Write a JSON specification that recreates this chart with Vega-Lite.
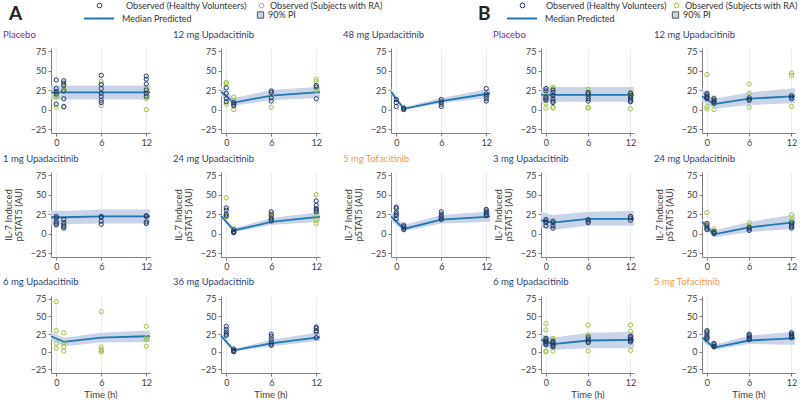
{
"$schema":"https://vega.github.io/schema/vega-lite/v6.json",
"padding":{"left":3,"right":0,"top":1,"bottom":0},
"datasets":{
"pred":[
{"p":"A1","t":-0.7,"m":22,"lo":13,"hi":31},{"p":"A1","t":1,"m":22,"lo":13,"hi":31},{"p":"A1","t":6,"m":22,"lo":13,"hi":31},{"p":"A1","t":12,"m":22,"lo":13,"hi":31},{"p":"A1","t":12.5,"m":22,"lo":13,"hi":31},
{"p":"A2","t":-0.7,"m":23,"lo":17,"hi":30},{"p":"A2","t":1,"m":9,"lo":5,"hi":15},{"p":"A2","t":6,"m":18,"lo":12,"hi":25},{"p":"A2","t":12,"m":22,"lo":15,"hi":29},{"p":"A2","t":12.5,"m":22.3,"lo":15.3,"hi":29.3},
{"p":"A3","t":-0.7,"m":23,"lo":19,"hi":27},{"p":"A3","t":1,"m":1,"lo":0,"hi":3},{"p":"A3","t":6,"m":11,"lo":8,"hi":15},{"p":"A3","t":12,"m":20,"lo":15,"hi":26},{"p":"A3","t":12.5,"m":20.7,"lo":15.5,"hi":26.7},
{"p":"A4","t":-0.7,"m":21,"lo":11,"hi":30},{"p":"A4","t":1,"m":21,"lo":12,"hi":29},{"p":"A4","t":6,"m":22,"lo":13,"hi":31},{"p":"A4","t":12,"m":22,"lo":13,"hi":31},{"p":"A4","t":12.5,"m":22,"lo":13,"hi":31},
{"p":"A5","t":-0.7,"m":23,"lo":21,"hi":25},{"p":"A5","t":1,"m":4,"lo":2,"hi":7},{"p":"A5","t":6,"m":15,"lo":11,"hi":20},{"p":"A5","t":12,"m":21,"lo":15,"hi":27},{"p":"A5","t":12.5,"m":21.5,"lo":15.5,"hi":27.5},
{"p":"A6","t":-0.7,"m":22,"lo":17,"hi":28},{"p":"A6","t":1,"m":6,"lo":3,"hi":11},{"p":"A6","t":6,"m":18,"lo":13,"hi":24},{"p":"A6","t":12,"m":21.5,"lo":15,"hi":28},{"p":"A6","t":12.5,"m":22,"lo":15.3,"hi":28.4},
{"p":"A7","t":-0.7,"m":22,"lo":17,"hi":28},{"p":"A7","t":1,"m":14,"lo":8,"hi":20},{"p":"A7","t":6,"m":20,"lo":13,"hi":27},{"p":"A7","t":12,"m":22,"lo":14,"hi":30},{"p":"A7","t":12.5,"m":22,"lo":14,"hi":30},
{"p":"A8","t":-0.7,"m":23,"lo":20,"hi":26},{"p":"A8","t":1,"m":2,"lo":0.5,"hi":4},{"p":"A8","t":6,"m":12,"lo":8,"hi":17},{"p":"A8","t":12,"m":20,"lo":15,"hi":27},{"p":"A8","t":12.5,"m":20.7,"lo":15.5,"hi":27.5},
{"p":"B1","t":-0.7,"m":19,"lo":10,"hi":29},{"p":"B1","t":1,"m":19,"lo":10,"hi":29},{"p":"B1","t":6,"m":19,"lo":10,"hi":29},{"p":"B1","t":12,"m":19,"lo":10,"hi":29},{"p":"B1","t":12.5,"m":19,"lo":10,"hi":29},
{"p":"B2","t":-0.7,"m":17,"lo":10,"hi":26},{"p":"B2","t":1,"m":7,"lo":1,"hi":14},{"p":"B2","t":6,"m":14,"lo":6,"hi":22},{"p":"B2","t":12,"m":17,"lo":8,"hi":27},{"p":"B2","t":12.5,"m":17.3,"lo":8.2,"hi":27.3},
{"p":"B3","t":-0.7,"m":17,"lo":8,"hi":28},{"p":"B3","t":1,"m":14,"lo":5,"hi":24},{"p":"B3","t":6,"m":19,"lo":10,"hi":28},{"p":"B3","t":12,"m":19,"lo":10,"hi":29},{"p":"B3","t":12.5,"m":19,"lo":10,"hi":29},
{"p":"B4","t":-0.7,"m":15,"lo":11,"hi":19},{"p":"B4","t":1,"m":-1,"lo":-5,"hi":4},{"p":"B4","t":6,"m":8,"lo":2,"hi":15},{"p":"B4","t":12,"m":14,"lo":6,"hi":24},{"p":"B4","t":12.5,"m":14.5,"lo":6.3,"hi":24.6},
{"p":"B5","t":-0.7,"m":17,"lo":9,"hi":25},{"p":"B5","t":1,"m":11,"lo":3,"hi":20},{"p":"B5","t":6,"m":16,"lo":5,"hi":27},{"p":"B5","t":12,"m":17,"lo":5,"hi":28},{"p":"B5","t":12.5,"m":17,"lo":5,"hi":28},
{"p":"B6","t":-0.7,"m":20,"lo":15,"hi":25},{"p":"B6","t":1,"m":6,"lo":3,"hi":10},{"p":"B6","t":6,"m":16,"lo":11,"hi":23},{"p":"B6","t":12,"m":19,"lo":10,"hi":28},{"p":"B6","t":12.5,"m":19.3,"lo":10.2,"hi":28.3}
],
"obs":[
{"p":"A1","t":0,"v":22,"s":"RA"},{"p":"A1","t":0,"v":18,"s":"RA"},{"p":"A1","t":0,"v":16,"s":"RA"},{"p":"A1","t":0,"v":3,"s":"RA"},
{"p":"A1","t":0,"v":38,"s":"HV"},{"p":"A1","t":0,"v":27,"s":"HV"},{"p":"A1","t":0,"v":23,"s":"HV"},{"p":"A1","t":0,"v":20,"s":"HV"},{"p":"A1","t":0,"v":7,"s":"HV"},
{"p":"A1","t":1,"v":27,"s":"RA"},{"p":"A1","t":1,"v":3,"s":"RA"},
{"p":"A1","t":1,"v":37,"s":"HV"},{"p":"A1","t":1,"v":34,"s":"HV"},{"p":"A1","t":1,"v":31,"s":"HV"},{"p":"A1","t":1,"v":24,"s":"HV"},{"p":"A1","t":1,"v":14,"s":"HV"},{"p":"A1","t":1,"v":4,"s":"HV"},
{"p":"A1","t":6,"v":36,"s":"RA"},{"p":"A1","t":6,"v":33,"s":"RA"},{"p":"A1","t":6,"v":5,"s":"RA"},
{"p":"A1","t":6,"v":44,"s":"HV"},{"p":"A1","t":6,"v":32,"s":"HV"},{"p":"A1","t":6,"v":27,"s":"HV"},{"p":"A1","t":6,"v":21,"s":"HV"},{"p":"A1","t":6,"v":17,"s":"HV"},{"p":"A1","t":6,"v":12,"s":"HV"},{"p":"A1","t":6,"v":9,"s":"HV"},
{"p":"A1","t":12,"v":27,"s":"RA"},{"p":"A1","t":12,"v":21,"s":"RA"},{"p":"A1","t":12,"v":14,"s":"RA"},{"p":"A1","t":12,"v":0,"s":"RA"},
{"p":"A1","t":12,"v":43,"s":"HV"},{"p":"A1","t":12,"v":39,"s":"HV"},{"p":"A1","t":12,"v":33,"s":"HV"},{"p":"A1","t":12,"v":25,"s":"HV"},{"p":"A1","t":12,"v":21,"s":"HV"},{"p":"A1","t":12,"v":17,"s":"HV"},
{"p":"A2","t":0,"v":35,"s":"RA"},{"p":"A2","t":0,"v":33,"s":"RA"},{"p":"A2","t":0,"v":7,"s":"RA"},
{"p":"A2","t":0,"v":28,"s":"HV"},{"p":"A2","t":0,"v":21,"s":"HV"},{"p":"A2","t":0,"v":14,"s":"HV"},{"p":"A2","t":0,"v":10,"s":"HV"},
{"p":"A2","t":1,"v":16,"s":"RA"},{"p":"A2","t":1,"v":12,"s":"RA"},{"p":"A2","t":1,"v":0,"s":"RA"},
{"p":"A2","t":1,"v":9,"s":"HV"},{"p":"A2","t":1,"v":7,"s":"HV"},{"p":"A2","t":1,"v":5,"s":"HV"},
{"p":"A2","t":6,"v":19,"s":"RA"},{"p":"A2","t":6,"v":3,"s":"RA"},
{"p":"A2","t":6,"v":24,"s":"HV"},{"p":"A2","t":6,"v":22,"s":"HV"},{"p":"A2","t":6,"v":15,"s":"HV"},{"p":"A2","t":6,"v":11,"s":"HV"},
{"p":"A2","t":12,"v":39,"s":"RA"},{"p":"A2","t":12,"v":36,"s":"RA"},{"p":"A2","t":12,"v":25,"s":"RA"},
{"p":"A2","t":12,"v":31,"s":"HV"},{"p":"A2","t":12,"v":29,"s":"HV"},{"p":"A2","t":12,"v":14,"s":"HV"},
{"p":"A3","t":0,"v":13,"s":"HV"},{"p":"A3","t":0,"v":9,"s":"HV"},{"p":"A3","t":0,"v":4,"s":"HV"},
{"p":"A3","t":1,"v":2,"s":"HV"},{"p":"A3","t":1,"v":1,"s":"HV"},{"p":"A3","t":1,"v":0,"s":"HV"},
{"p":"A3","t":6,"v":13,"s":"HV"},{"p":"A3","t":6,"v":10,"s":"HV"},{"p":"A3","t":6,"v":7,"s":"HV"},{"p":"A3","t":6,"v":4,"s":"HV"},
{"p":"A3","t":12,"v":27,"s":"HV"},{"p":"A3","t":12,"v":20,"s":"HV"},{"p":"A3","t":12,"v":17,"s":"HV"},{"p":"A3","t":12,"v":14,"s":"HV"},{"p":"A3","t":12,"v":11,"s":"HV"},
{"p":"A4","t":0,"v":22,"s":"HV"},{"p":"A4","t":0,"v":20,"s":"HV"},{"p":"A4","t":0,"v":15,"s":"HV"},{"p":"A4","t":0,"v":13,"s":"HV"},{"p":"A4","t":0,"v":11,"s":"HV"},
{"p":"A4","t":1,"v":18,"s":"HV"},{"p":"A4","t":1,"v":14,"s":"HV"},{"p":"A4","t":1,"v":11,"s":"HV"},{"p":"A4","t":1,"v":9,"s":"HV"},{"p":"A4","t":1,"v":7,"s":"HV"},
{"p":"A4","t":6,"v":22,"s":"HV"},{"p":"A4","t":6,"v":21,"s":"HV"},{"p":"A4","t":6,"v":16,"s":"HV"},{"p":"A4","t":6,"v":12,"s":"HV"},
{"p":"A4","t":12,"v":23,"s":"HV"},{"p":"A4","t":12,"v":22,"s":"HV"},{"p":"A4","t":12,"v":15,"s":"HV"},{"p":"A4","t":12,"v":13,"s":"HV"},
{"p":"A5","t":0,"v":46,"s":"RA"},{"p":"A5","t":0,"v":22,"s":"RA"},{"p":"A5","t":0,"v":21,"s":"RA"},
{"p":"A5","t":0,"v":33,"s":"HV"},{"p":"A5","t":0,"v":30,"s":"HV"},{"p":"A5","t":0,"v":25,"s":"HV"},{"p":"A5","t":0,"v":23,"s":"HV"},
{"p":"A5","t":1,"v":6,"s":"RA"},{"p":"A5","t":1,"v":2,"s":"RA"},
{"p":"A5","t":1,"v":5,"s":"HV"},{"p":"A5","t":1,"v":3,"s":"HV"},{"p":"A5","t":1,"v":2,"s":"HV"},{"p":"A5","t":1,"v":1,"s":"HV"},
{"p":"A5","t":6,"v":26,"s":"RA"},{"p":"A5","t":6,"v":22,"s":"RA"},
{"p":"A5","t":6,"v":28,"s":"HV"},{"p":"A5","t":6,"v":24,"s":"HV"},{"p":"A5","t":6,"v":20,"s":"HV"},{"p":"A5","t":6,"v":18,"s":"HV"},{"p":"A5","t":6,"v":16,"s":"HV"},
{"p":"A5","t":12,"v":50,"s":"RA"},{"p":"A5","t":12,"v":25,"s":"RA"},{"p":"A5","t":12,"v":17,"s":"RA"},{"p":"A5","t":12,"v":13,"s":"RA"},
{"p":"A5","t":12,"v":42,"s":"HV"},{"p":"A5","t":12,"v":36,"s":"HV"},{"p":"A5","t":12,"v":32,"s":"HV"},{"p":"A5","t":12,"v":30,"s":"HV"},{"p":"A5","t":12,"v":28,"s":"HV"},
{"p":"A6","t":0,"v":34,"s":"HV"},{"p":"A6","t":0,"v":32,"s":"HV"},{"p":"A6","t":0,"v":27,"s":"HV"},{"p":"A6","t":0,"v":25,"s":"HV"},{"p":"A6","t":0,"v":23,"s":"HV"},{"p":"A6","t":0,"v":19,"s":"HV"},
{"p":"A6","t":1,"v":11,"s":"HV"},{"p":"A6","t":1,"v":9,"s":"HV"},{"p":"A6","t":1,"v":7,"s":"HV"},{"p":"A6","t":1,"v":5,"s":"HV"},
{"p":"A6","t":6,"v":28,"s":"HV"},{"p":"A6","t":6,"v":25,"s":"HV"},{"p":"A6","t":6,"v":22,"s":"HV"},{"p":"A6","t":6,"v":20,"s":"HV"},{"p":"A6","t":6,"v":18,"s":"HV"},
{"p":"A6","t":12,"v":31,"s":"HV"},{"p":"A6","t":12,"v":29,"s":"HV"},{"p":"A6","t":12,"v":27,"s":"HV"},{"p":"A6","t":12,"v":25,"s":"HV"},{"p":"A6","t":12,"v":23,"s":"HV"},
{"p":"A7","t":0,"v":71,"s":"RA"},{"p":"A7","t":0,"v":30,"s":"RA"},{"p":"A7","t":0,"v":12,"s":"RA"},{"p":"A7","t":0,"v":5,"s":"RA"},
{"p":"A7","t":1,"v":27,"s":"RA"},{"p":"A7","t":1,"v":13,"s":"RA"},{"p":"A7","t":1,"v":7,"s":"RA"},{"p":"A7","t":1,"v":1,"s":"RA"},
{"p":"A7","t":6,"v":57,"s":"RA"},{"p":"A7","t":6,"v":7,"s":"RA"},{"p":"A7","t":6,"v":3,"s":"RA"},{"p":"A7","t":6,"v":1,"s":"RA"},{"p":"A7","t":6,"v":0,"s":"RA"},
{"p":"A7","t":12,"v":36,"s":"RA"},{"p":"A7","t":12,"v":20,"s":"RA"},{"p":"A7","t":12,"v":17,"s":"RA"},{"p":"A7","t":12,"v":8,"s":"RA"},
{"p":"A8","t":0,"v":36,"s":"HV"},{"p":"A8","t":0,"v":32,"s":"HV"},{"p":"A8","t":0,"v":28,"s":"HV"},{"p":"A8","t":0,"v":25,"s":"HV"},{"p":"A8","t":0,"v":23,"s":"HV"},
{"p":"A8","t":1,"v":4,"s":"HV"},{"p":"A8","t":1,"v":2,"s":"HV"},{"p":"A8","t":1,"v":1,"s":"HV"},{"p":"A8","t":1,"v":0,"s":"HV"},
{"p":"A8","t":6,"v":25,"s":"HV"},{"p":"A8","t":6,"v":22,"s":"HV"},{"p":"A8","t":6,"v":18,"s":"HV"},{"p":"A8","t":6,"v":14,"s":"HV"},{"p":"A8","t":6,"v":11,"s":"HV"},{"p":"A8","t":6,"v":9,"s":"HV"},
{"p":"A8","t":12,"v":35,"s":"HV"},{"p":"A8","t":12,"v":33,"s":"HV"},{"p":"A8","t":12,"v":30,"s":"HV"},{"p":"A8","t":12,"v":28,"s":"HV"},{"p":"A8","t":12,"v":20,"s":"HV"},
{"p":"B1","t":0,"v":20,"s":"RA"},{"p":"B1","t":0,"v":8,"s":"RA"},{"p":"B1","t":0,"v":2,"s":"RA"},
{"p":"B1","t":0,"v":27,"s":"HV"},{"p":"B1","t":0,"v":24,"s":"HV"},{"p":"B1","t":0,"v":16,"s":"HV"},{"p":"B1","t":0,"v":14,"s":"HV"},{"p":"B1","t":0,"v":12,"s":"HV"},
{"p":"B1","t":1,"v":29,"s":"RA"},{"p":"B1","t":1,"v":27,"s":"RA"},{"p":"B1","t":1,"v":3,"s":"RA"},{"p":"B1","t":1,"v":2,"s":"RA"},
{"p":"B1","t":1,"v":25,"s":"HV"},{"p":"B1","t":1,"v":22,"s":"HV"},{"p":"B1","t":1,"v":18,"s":"HV"},{"p":"B1","t":1,"v":14,"s":"HV"},{"p":"B1","t":1,"v":11,"s":"HV"},{"p":"B1","t":1,"v":9,"s":"HV"},
{"p":"B1","t":6,"v":26,"s":"RA"},{"p":"B1","t":6,"v":22,"s":"RA"},{"p":"B1","t":6,"v":3,"s":"RA"},{"p":"B1","t":6,"v":2,"s":"RA"},
{"p":"B1","t":6,"v":22,"s":"HV"},{"p":"B1","t":6,"v":20,"s":"HV"},{"p":"B1","t":6,"v":17,"s":"HV"},{"p":"B1","t":6,"v":14,"s":"HV"},{"p":"B1","t":6,"v":11,"s":"HV"},
{"p":"B1","t":12,"v":22,"s":"RA"},{"p":"B1","t":12,"v":20,"s":"RA"},{"p":"B1","t":12,"v":19,"s":"RA"},{"p":"B1","t":12,"v":1,"s":"RA"},
{"p":"B1","t":12,"v":21,"s":"HV"},{"p":"B1","t":12,"v":18,"s":"HV"},{"p":"B1","t":12,"v":15,"s":"HV"},{"p":"B1","t":12,"v":12,"s":"HV"},{"p":"B1","t":12,"v":10,"s":"HV"},
{"p":"B2","t":0,"v":45,"s":"RA"},{"p":"B2","t":0,"v":4,"s":"RA"},{"p":"B2","t":0,"v":1,"s":"RA"},
{"p":"B2","t":0,"v":21,"s":"HV"},{"p":"B2","t":0,"v":19,"s":"HV"},{"p":"B2","t":0,"v":17,"s":"HV"},{"p":"B2","t":0,"v":15,"s":"HV"},{"p":"B2","t":0,"v":14,"s":"HV"},
{"p":"B2","t":1,"v":15,"s":"RA"},{"p":"B2","t":1,"v":8,"s":"RA"},{"p":"B2","t":1,"v":0,"s":"RA"},
{"p":"B2","t":1,"v":14,"s":"HV"},{"p":"B2","t":1,"v":12,"s":"HV"},{"p":"B2","t":1,"v":10,"s":"HV"},{"p":"B2","t":1,"v":8,"s":"HV"},
{"p":"B2","t":6,"v":33,"s":"RA"},{"p":"B2","t":6,"v":21,"s":"RA"},{"p":"B2","t":6,"v":3,"s":"RA"},
{"p":"B2","t":6,"v":15,"s":"HV"},{"p":"B2","t":6,"v":13,"s":"HV"},{"p":"B2","t":6,"v":12,"s":"HV"},
{"p":"B2","t":12,"v":47,"s":"RA"},{"p":"B2","t":12,"v":44,"s":"RA"},{"p":"B2","t":12,"v":4,"s":"RA"},
{"p":"B2","t":12,"v":18,"s":"HV"},{"p":"B2","t":12,"v":16,"s":"HV"},{"p":"B2","t":12,"v":14,"s":"HV"},
{"p":"B3","t":0,"v":18,"s":"HV"},{"p":"B3","t":0,"v":16,"s":"HV"},{"p":"B3","t":0,"v":14,"s":"HV"},{"p":"B3","t":0,"v":10,"s":"HV"},
{"p":"B3","t":1,"v":16,"s":"HV"},{"p":"B3","t":1,"v":14,"s":"HV"},{"p":"B3","t":1,"v":10,"s":"HV"},{"p":"B3","t":1,"v":7,"s":"HV"},
{"p":"B3","t":6,"v":18,"s":"HV"},{"p":"B3","t":6,"v":16,"s":"HV"},{"p":"B3","t":6,"v":14,"s":"HV"},
{"p":"B3","t":12,"v":22,"s":"HV"},{"p":"B3","t":12,"v":20,"s":"HV"},{"p":"B3","t":12,"v":17,"s":"HV"},
{"p":"B4","t":0,"v":27,"s":"RA"},{"p":"B4","t":0,"v":12,"s":"RA"},
{"p":"B4","t":0,"v":13,"s":"HV"},{"p":"B4","t":0,"v":10,"s":"HV"},{"p":"B4","t":0,"v":7,"s":"HV"},{"p":"B4","t":0,"v":5,"s":"HV"},
{"p":"B4","t":1,"v":6,"s":"RA"},{"p":"B4","t":1,"v":2,"s":"RA"},
{"p":"B4","t":1,"v":3,"s":"HV"},{"p":"B4","t":1,"v":1,"s":"HV"},{"p":"B4","t":1,"v":0,"s":"HV"},
{"p":"B4","t":6,"v":14,"s":"RA"},{"p":"B4","t":6,"v":10,"s":"RA"},
{"p":"B4","t":6,"v":8,"s":"HV"},{"p":"B4","t":6,"v":6,"s":"HV"},{"p":"B4","t":6,"v":4,"s":"HV"},
{"p":"B4","t":12,"v":24,"s":"RA"},{"p":"B4","t":12,"v":17,"s":"RA"},
{"p":"B4","t":12,"v":14,"s":"HV"},{"p":"B4","t":12,"v":11,"s":"HV"},{"p":"B4","t":12,"v":9,"s":"HV"},{"p":"B4","t":12,"v":7,"s":"HV"},
{"p":"B5","t":0,"v":40,"s":"RA"},{"p":"B5","t":0,"v":31,"s":"RA"},{"p":"B5","t":0,"v":1,"s":"RA"},{"p":"B5","t":0,"v":0,"s":"RA"},
{"p":"B5","t":0,"v":19,"s":"HV"},{"p":"B5","t":0,"v":17,"s":"HV"},{"p":"B5","t":0,"v":15,"s":"HV"},{"p":"B5","t":0,"v":14,"s":"HV"},{"p":"B5","t":0,"v":12,"s":"HV"},{"p":"B5","t":0,"v":10,"s":"HV"},
{"p":"B5","t":1,"v":19,"s":"RA"},{"p":"B5","t":1,"v":17,"s":"RA"},{"p":"B5","t":1,"v":1,"s":"RA"},
{"p":"B5","t":1,"v":15,"s":"HV"},{"p":"B5","t":1,"v":13,"s":"HV"},{"p":"B5","t":1,"v":11,"s":"HV"},{"p":"B5","t":1,"v":9,"s":"HV"},{"p":"B5","t":1,"v":7,"s":"HV"},
{"p":"B5","t":6,"v":38,"s":"RA"},{"p":"B5","t":6,"v":24,"s":"RA"},{"p":"B5","t":6,"v":1,"s":"RA"},
{"p":"B5","t":6,"v":21,"s":"HV"},{"p":"B5","t":6,"v":18,"s":"HV"},{"p":"B5","t":6,"v":15,"s":"HV"},{"p":"B5","t":6,"v":13,"s":"HV"},
{"p":"B5","t":12,"v":38,"s":"RA"},{"p":"B5","t":12,"v":29,"s":"RA"},{"p":"B5","t":12,"v":2,"s":"RA"},
{"p":"B5","t":12,"v":22,"s":"HV"},{"p":"B5","t":12,"v":20,"s":"HV"},{"p":"B5","t":12,"v":18,"s":"HV"},{"p":"B5","t":12,"v":16,"s":"HV"},{"p":"B5","t":12,"v":14,"s":"HV"},
{"p":"B6","t":0,"v":30,"s":"HV"},{"p":"B6","t":0,"v":28,"s":"HV"},{"p":"B6","t":0,"v":25,"s":"HV"},{"p":"B6","t":0,"v":22,"s":"HV"},{"p":"B6","t":0,"v":20,"s":"HV"},{"p":"B6","t":0,"v":18,"s":"HV"},
{"p":"B6","t":1,"v":12,"s":"HV"},{"p":"B6","t":1,"v":10,"s":"HV"},{"p":"B6","t":1,"v":8,"s":"HV"},{"p":"B6","t":1,"v":7,"s":"HV"},
{"p":"B6","t":6,"v":25,"s":"HV"},{"p":"B6","t":6,"v":23,"s":"HV"},{"p":"B6","t":6,"v":21,"s":"HV"},{"p":"B6","t":6,"v":19,"s":"HV"},{"p":"B6","t":6,"v":17,"s":"HV"},
{"p":"B6","t":12,"v":27,"s":"HV"},{"p":"B6","t":12,"v":25,"s":"HV"},{"p":"B6","t":12,"v":23,"s":"HV"},{"p":"B6","t":12,"v":21,"s":"HV"},{"p":"B6","t":12,"v":20,"s":"HV"}
]
},
"hconcat":[
{"concat":[
{"width":99,"height":85,"title":{"text":"Placebo","color":"#7030a0"},"layer":[
{"data":{"name":"pred"},"transform":[{"filter":"datum.p=='A1'"}],"mark":{"type":"area"},"encoding":{"x":{"field":"t","type":"quantitative","scale":{"domain":[-0.7,12.5],"nice":false,"zero":false},"axis":{"values":[0,6,12],"tickCount":3,"title":null}},"y":{"field":"lo","type":"quantitative","scale":{"domain":[-30,79],"nice":false,"zero":false},"axis":{"values":[-25,0,25,50,75],"tickCount":5,"title":null}},"y2":{"field":"hi"},
"fill":{"datum":"PI","type":"nominal","scale":{"domain":["PI"],"range":["#c9d4e8"]},"legend":{"orient":"none","legendX":205,"legendY":-37.5,"title":null,"symbolType":"square","symbolSize":40,"symbolStrokeColor":"#595959","symbolStrokeWidth":1,"labelOffset":3,"labelExpr":"'90% PI'"}}}},
{"data":{"name":"pred"},"transform":[{"filter":"datum.p=='A1'"}],"mark":{"type":"line","strokeWidth":1.8},"encoding":{"x":{"field":"t","type":"quantitative"},"y":{"field":"m","type":"quantitative"},
"stroke":{"datum":"MP","type":"nominal","scale":{"domain":["MP"],"range":["#1f78b4"]},"legend":{"orient":"none","legendX":-42,"legendY":-45.5,"title":"A","titleOrient":"left","titlePadding":60,"symbolSize":900,"symbolStrokeWidth":2,"labelOffset":7,"labelExpr":"'Median Predicted'"}}}},
{"data":{"name":"obs"},"transform":[{"filter":"datum.p=='A1'"}],"mark":{"type":"point","filled":false,"size":18,"strokeWidth":1,"opacity":1},"encoding":{"x":{"field":"t","type":"quantitative"},"y":{"field":"v","type":"quantitative"},
"color":{"field":"s","type":"nominal","scale":{"domain":["HV","RA"],"range":["#1f3864","#9bc53d"]},"legend":{"orient":"none","legendX":44,"legendY":-47,"values":["HV"],"title":null,"symbolSize":22,"symbolStrokeWidth":1,"labelOffset":22,"labelExpr":"'Observed (Healthy Volunteers)'"}},
"shape":{"field":"s","type":"nominal","scale":{"domain":["RA","HV"],"range":["circle","circle"]},"legend":{"orient":"none","legendX":206,"legendY":-47,"values":["RA"],"title":null,"symbolSize":22,"symbolStrokeColor":"#9bc53d","symbolStrokeWidth":1,"labelOffset":4,"labelExpr":"'Observed (Subjects with RA)'"}}}}
]},
{"width":99,"height":85,"title":{"text":"12 mg Upadacitinib","color":"#2f3f6e"},"layer":[
{"data":{"name":"pred"},"transform":[{"filter":"datum.p=='A2'"}],"mark":{"type":"area"},"encoding":{"x":{"field":"t","type":"quantitative","scale":{"domain":[-0.7,12.5],"nice":false,"zero":false},"axis":{"values":[0,6,12],"tickCount":3,"title":null}},"y":{"field":"lo","type":"quantitative","scale":{"domain":[-30,79],"nice":false,"zero":false},"axis":{"values":[-25,0,25,50,75],"tickCount":5,"title":null}},"y2":{"field":"hi"},"fill":{"datum":"PI","type":"nominal","scale":{"domain":["PI"],"range":["#c9d4e8"]}}}},
{"data":{"name":"pred"},"transform":[{"filter":"datum.p=='A2'"}],"mark":{"type":"line","strokeWidth":1.8},"encoding":{"x":{"field":"t","type":"quantitative"},"y":{"field":"m","type":"quantitative"},"stroke":{"datum":"MP","type":"nominal","scale":{"domain":["MP"],"range":["#1f78b4"]}}}},
{"data":{"name":"obs"},"transform":[{"filter":"datum.p=='A2'"}],"mark":{"type":"point","filled":false,"size":18,"strokeWidth":1,"opacity":1},"encoding":{"x":{"field":"t","type":"quantitative"},"y":{"field":"v","type":"quantitative"},"color":{"field":"s","type":"nominal","scale":{"domain":["HV","RA"],"range":["#1f3864","#9bc53d"]}},"shape":{"field":"s","type":"nominal","scale":{"domain":["RA","HV"],"range":["circle","circle"]}}}}
]},
{"width":99,"height":85,"title":{"text":"48 mg Upadacitinib","color":"#2f3f6e"},"layer":[
{"data":{"name":"pred"},"transform":[{"filter":"datum.p=='A3'"}],"mark":{"type":"area"},"encoding":{"x":{"field":"t","type":"quantitative","scale":{"domain":[-0.7,12.5],"nice":false,"zero":false},"axis":{"values":[0,6,12],"tickCount":3,"title":null}},"y":{"field":"lo","type":"quantitative","scale":{"domain":[-30,79],"nice":false,"zero":false},"axis":{"values":[-25,0,25,50,75],"tickCount":5,"title":null}},"y2":{"field":"hi"},"fill":{"datum":"PI","type":"nominal","scale":{"domain":["PI"],"range":["#c9d4e8"]}}}},
{"data":{"name":"pred"},"transform":[{"filter":"datum.p=='A3'"}],"mark":{"type":"line","strokeWidth":1.8},"encoding":{"x":{"field":"t","type":"quantitative"},"y":{"field":"m","type":"quantitative"},"stroke":{"datum":"MP","type":"nominal","scale":{"domain":["MP"],"range":["#1f78b4"]}}}},
{"data":{"name":"obs"},"transform":[{"filter":"datum.p=='A3'"}],"mark":{"type":"point","filled":false,"size":18,"strokeWidth":1,"opacity":1},"encoding":{"x":{"field":"t","type":"quantitative"},"y":{"field":"v","type":"quantitative"},"color":{"field":"s","type":"nominal","scale":{"domain":["HV","RA"],"range":["#1f3864","#9bc53d"]}},"shape":{"field":"s","type":"nominal","scale":{"domain":["RA","HV"],"range":["circle","circle"]}}}}
]},
{"width":99,"height":85,"title":{"text":"1 mg Upadacitinib","color":"#2f3f6e"},"layer":[
{"data":{"name":"pred"},"transform":[{"filter":"datum.p=='A4'"}],"mark":{"type":"area"},"encoding":{"x":{"field":"t","type":"quantitative","scale":{"domain":[-0.7,12.5],"nice":false,"zero":false},"axis":{"values":[0,6,12],"tickCount":3,"title":null}},"y":{"field":"lo","type":"quantitative","scale":{"domain":[-30,79],"nice":false,"zero":false},"axis":{"values":[-25,0,25,50,75],"tickCount":5,"title":["IL-7 Induced","pSTAT5 (AU)"]}},"y2":{"field":"hi"},"fill":{"datum":"PI","type":"nominal","scale":{"domain":["PI"],"range":["#c9d4e8"]}}}},
{"data":{"name":"pred"},"transform":[{"filter":"datum.p=='A4'"}],"mark":{"type":"line","strokeWidth":1.8},"encoding":{"x":{"field":"t","type":"quantitative"},"y":{"field":"m","type":"quantitative"},"stroke":{"datum":"MP","type":"nominal","scale":{"domain":["MP"],"range":["#1f78b4"]}}}},
{"data":{"name":"obs"},"transform":[{"filter":"datum.p=='A4'"}],"mark":{"type":"point","filled":false,"size":18,"strokeWidth":1,"opacity":1},"encoding":{"x":{"field":"t","type":"quantitative"},"y":{"field":"v","type":"quantitative"},"color":{"field":"s","type":"nominal","scale":{"domain":["HV","RA"],"range":["#1f3864","#9bc53d"]}},"shape":{"field":"s","type":"nominal","scale":{"domain":["RA","HV"],"range":["circle","circle"]}}}}
]},
{"width":99,"height":85,"title":{"text":"24 mg Upadacitinib","color":"#2f3f6e"},"layer":[
{"data":{"name":"pred"},"transform":[{"filter":"datum.p=='A5'"}],"mark":{"type":"area"},"encoding":{"x":{"field":"t","type":"quantitative","scale":{"domain":[-0.7,12.5],"nice":false,"zero":false},"axis":{"values":[0,6,12],"tickCount":3,"title":null}},"y":{"field":"lo","type":"quantitative","scale":{"domain":[-30,79],"nice":false,"zero":false},"axis":{"values":[-25,0,25,50,75],"tickCount":5,"title":["IL-7 Induced","pSTAT5 (AU)"]}},"y2":{"field":"hi"},"fill":{"datum":"PI","type":"nominal","scale":{"domain":["PI"],"range":["#c9d4e8"]}}}},
{"data":{"name":"pred"},"transform":[{"filter":"datum.p=='A5'"}],"mark":{"type":"line","strokeWidth":1.8},"encoding":{"x":{"field":"t","type":"quantitative"},"y":{"field":"m","type":"quantitative"},"stroke":{"datum":"MP","type":"nominal","scale":{"domain":["MP"],"range":["#1f78b4"]}}}},
{"data":{"name":"obs"},"transform":[{"filter":"datum.p=='A5'"}],"mark":{"type":"point","filled":false,"size":18,"strokeWidth":1,"opacity":1},"encoding":{"x":{"field":"t","type":"quantitative"},"y":{"field":"v","type":"quantitative"},"color":{"field":"s","type":"nominal","scale":{"domain":["HV","RA"],"range":["#1f3864","#9bc53d"]}},"shape":{"field":"s","type":"nominal","scale":{"domain":["RA","HV"],"range":["circle","circle"]}}}}
]},
{"width":99,"height":85,"title":{"text":"5 mg Tofacitinib","color":"#ee9a4d"},"layer":[
{"data":{"name":"pred"},"transform":[{"filter":"datum.p=='A6'"}],"mark":{"type":"area"},"encoding":{"x":{"field":"t","type":"quantitative","scale":{"domain":[-0.7,12.5],"nice":false,"zero":false},"axis":{"values":[0,6,12],"tickCount":3,"title":null}},"y":{"field":"lo","type":"quantitative","scale":{"domain":[-30,79],"nice":false,"zero":false},"axis":{"values":[-25,0,25,50,75],"tickCount":5,"title":["IL-7 Induced","pSTAT5 (AU)"]}},"y2":{"field":"hi"},"fill":{"datum":"PI","type":"nominal","scale":{"domain":["PI"],"range":["#c9d4e8"]}}}},
{"data":{"name":"pred"},"transform":[{"filter":"datum.p=='A6'"}],"mark":{"type":"line","strokeWidth":1.8},"encoding":{"x":{"field":"t","type":"quantitative"},"y":{"field":"m","type":"quantitative"},"stroke":{"datum":"MP","type":"nominal","scale":{"domain":["MP"],"range":["#1f78b4"]}}}},
{"data":{"name":"obs"},"transform":[{"filter":"datum.p=='A6'"}],"mark":{"type":"point","filled":false,"size":18,"strokeWidth":1,"opacity":1},"encoding":{"x":{"field":"t","type":"quantitative"},"y":{"field":"v","type":"quantitative"},"color":{"field":"s","type":"nominal","scale":{"domain":["HV","RA"],"range":["#1f3864","#9bc53d"]}},"shape":{"field":"s","type":"nominal","scale":{"domain":["RA","HV"],"range":["circle","circle"]}}}}
]},
{"width":99,"height":77,"title":{"text":"6 mg Upadacitinib","color":"#2f3f6e"},"layer":[
{"data":{"name":"pred"},"transform":[{"filter":"datum.p=='A7'"}],"mark":{"type":"area"},"encoding":{"x":{"field":"t","type":"quantitative","scale":{"domain":[-0.7,12.5],"nice":false,"zero":false},"axis":{"values":[0,6,12],"tickCount":3,"title":"Time (h)"}},"y":{"field":"lo","type":"quantitative","scale":{"domain":[-30,79],"nice":false,"zero":false},"axis":{"values":[-25,0,25,50,75],"tickCount":5,"title":null}},"y2":{"field":"hi"},"fill":{"datum":"PI","type":"nominal","scale":{"domain":["PI"],"range":["#c9d4e8"]}}}},
{"data":{"name":"pred"},"transform":[{"filter":"datum.p=='A7'"}],"mark":{"type":"line","strokeWidth":1.8},"encoding":{"x":{"field":"t","type":"quantitative"},"y":{"field":"m","type":"quantitative"},"stroke":{"datum":"MP","type":"nominal","scale":{"domain":["MP"],"range":["#1f78b4"]}}}},
{"data":{"name":"obs"},"transform":[{"filter":"datum.p=='A7'"}],"mark":{"type":"point","filled":false,"size":18,"strokeWidth":1,"opacity":1},"encoding":{"x":{"field":"t","type":"quantitative"},"y":{"field":"v","type":"quantitative"},"color":{"field":"s","type":"nominal","scale":{"domain":["HV","RA"],"range":["#1f3864","#9bc53d"]}},"shape":{"field":"s","type":"nominal","scale":{"domain":["RA","HV"],"range":["circle","circle"]}}}}
]},
{"width":99,"height":77,"title":{"text":"36 mg Upadacitinib","color":"#2f3f6e"},"layer":[
{"data":{"name":"pred"},"transform":[{"filter":"datum.p=='A8'"}],"mark":{"type":"area"},"encoding":{"x":{"field":"t","type":"quantitative","scale":{"domain":[-0.7,12.5],"nice":false,"zero":false},"axis":{"values":[0,6,12],"tickCount":3,"title":"Time (h)"}},"y":{"field":"lo","type":"quantitative","scale":{"domain":[-30,79],"nice":false,"zero":false},"axis":{"values":[-25,0,25,50,75],"tickCount":5,"title":null}},"y2":{"field":"hi"},"fill":{"datum":"PI","type":"nominal","scale":{"domain":["PI"],"range":["#c9d4e8"]}}}},
{"data":{"name":"pred"},"transform":[{"filter":"datum.p=='A8'"}],"mark":{"type":"line","strokeWidth":1.8},"encoding":{"x":{"field":"t","type":"quantitative"},"y":{"field":"m","type":"quantitative"},"stroke":{"datum":"MP","type":"nominal","scale":{"domain":["MP"],"range":["#1f78b4"]}}}},
{"data":{"name":"obs"},"transform":[{"filter":"datum.p=='A8'"}],"mark":{"type":"point","filled":false,"size":18,"strokeWidth":1,"opacity":1},"encoding":{"x":{"field":"t","type":"quantitative"},"y":{"field":"v","type":"quantitative"},"color":{"field":"s","type":"nominal","scale":{"domain":["HV","RA"],"range":["#1f3864","#9bc53d"]}},"shape":{"field":"s","type":"nominal","scale":{"domain":["RA","HV"],"range":["circle","circle"]}}}}
]}
],"columns":3,"spacing":{"row":6,"column":19},"align":"each"},
{"concat":[
{"width":93,"height":85,"title":{"text":"Placebo","color":"#7030a0"},"layer":[
{"data":{"name":"pred"},"transform":[{"filter":"datum.p=='B1'"}],"mark":{"type":"area"},"encoding":{"x":{"field":"t","type":"quantitative","scale":{"domain":[-0.7,12.5],"nice":false,"zero":false},"axis":{"values":[0,6,12],"tickCount":3,"title":null}},"y":{"field":"lo","type":"quantitative","scale":{"domain":[-30,79],"nice":false,"zero":false},"axis":{"values":[-25,0,25,50,75],"tickCount":5,"title":null}},"y2":{"field":"hi"},
"fill":{"datum":"PI","type":"nominal","scale":{"domain":["PI"],"range":["#c9d4e8"]},"legend":{"orient":"none","legendX":130,"legendY":-37.5,"title":null,"symbolType":"square","symbolSize":40,"symbolStrokeColor":"#595959","symbolStrokeWidth":1,"labelOffset":3,"labelExpr":"'90% PI'"}}}},
{"data":{"name":"pred"},"transform":[{"filter":"datum.p=='B1'"}],"mark":{"type":"line","strokeWidth":1.8},"encoding":{"x":{"field":"t","type":"quantitative"},"y":{"field":"m","type":"quantitative"},
"stroke":{"datum":"MP","type":"nominal","scale":{"domain":["MP"],"range":["#1f78b4"]},"legend":{"orient":"none","legendX":-63,"legendY":-45.5,"title":"B","titleOrient":"left","titlePadding":15,"symbolSize":900,"symbolStrokeWidth":2,"labelOffset":7,"labelExpr":"'Median Predicted'"}}}},
{"data":{"name":"obs"},"transform":[{"filter":"datum.p=='B1'"}],"mark":{"type":"point","filled":false,"size":18,"strokeWidth":1,"opacity":1},"encoding":{"x":{"field":"t","type":"quantitative"},"y":{"field":"v","type":"quantitative"},
"color":{"field":"s","type":"nominal","scale":{"domain":["HV","RA"],"range":["#1f3864","#9bc53d"]},"legend":{"orient":"none","legendX":-23,"legendY":-47,"values":["HV"],"title":null,"symbolSize":22,"symbolStrokeWidth":1,"labelOffset":19,"labelExpr":"'Observed (Healthy Volunteers)'"}},
"shape":{"field":"s","type":"nominal","scale":{"domain":["RA","HV"],"range":["circle","circle"]},"legend":{"orient":"none","legendX":131,"legendY":-47,"values":["RA"],"title":null,"symbolSize":22,"symbolStrokeColor":"#9bc53d","symbolStrokeWidth":1,"labelOffset":4,"labelExpr":"'Observed (Subjects with RA)'"}}}}
]},
{"width":93,"height":85,"title":{"text":"12 mg Upadacitinib","color":"#2f3f6e"},"layer":[
{"data":{"name":"pred"},"transform":[{"filter":"datum.p=='B2'"}],"mark":{"type":"area"},"encoding":{"x":{"field":"t","type":"quantitative","scale":{"domain":[-0.7,12.5],"nice":false,"zero":false},"axis":{"values":[0,6,12],"tickCount":3,"title":null}},"y":{"field":"lo","type":"quantitative","scale":{"domain":[-30,79],"nice":false,"zero":false},"axis":{"values":[-25,0,25,50,75],"tickCount":5,"title":null}},"y2":{"field":"hi"},"fill":{"datum":"PI","type":"nominal","scale":{"domain":["PI"],"range":["#c9d4e8"]}}}},
{"data":{"name":"pred"},"transform":[{"filter":"datum.p=='B2'"}],"mark":{"type":"line","strokeWidth":1.8},"encoding":{"x":{"field":"t","type":"quantitative"},"y":{"field":"m","type":"quantitative"},"stroke":{"datum":"MP","type":"nominal","scale":{"domain":["MP"],"range":["#1f78b4"]}}}},
{"data":{"name":"obs"},"transform":[{"filter":"datum.p=='B2'"}],"mark":{"type":"point","filled":false,"size":18,"strokeWidth":1,"opacity":1},"encoding":{"x":{"field":"t","type":"quantitative"},"y":{"field":"v","type":"quantitative"},"color":{"field":"s","type":"nominal","scale":{"domain":["HV","RA"],"range":["#1f3864","#9bc53d"]}},"shape":{"field":"s","type":"nominal","scale":{"domain":["RA","HV"],"range":["circle","circle"]}}}}
]},
{"width":93,"height":85,"title":{"text":"3 mg Upadacitinib","color":"#2f3f6e"},"layer":[
{"data":{"name":"pred"},"transform":[{"filter":"datum.p=='B3'"}],"mark":{"type":"area"},"encoding":{"x":{"field":"t","type":"quantitative","scale":{"domain":[-0.7,12.5],"nice":false,"zero":false},"axis":{"values":[0,6,12],"tickCount":3,"title":null}},"y":{"field":"lo","type":"quantitative","scale":{"domain":[-30,79],"nice":false,"zero":false},"axis":{"values":[-25,0,25,50,75],"tickCount":5,"title":["IL-7 Induced","pSTAT5 (AU)"]}},"y2":{"field":"hi"},"fill":{"datum":"PI","type":"nominal","scale":{"domain":["PI"],"range":["#c9d4e8"]}}}},
{"data":{"name":"pred"},"transform":[{"filter":"datum.p=='B3'"}],"mark":{"type":"line","strokeWidth":1.8},"encoding":{"x":{"field":"t","type":"quantitative"},"y":{"field":"m","type":"quantitative"},"stroke":{"datum":"MP","type":"nominal","scale":{"domain":["MP"],"range":["#1f78b4"]}}}},
{"data":{"name":"obs"},"transform":[{"filter":"datum.p=='B3'"}],"mark":{"type":"point","filled":false,"size":18,"strokeWidth":1,"opacity":1},"encoding":{"x":{"field":"t","type":"quantitative"},"y":{"field":"v","type":"quantitative"},"color":{"field":"s","type":"nominal","scale":{"domain":["HV","RA"],"range":["#1f3864","#9bc53d"]}},"shape":{"field":"s","type":"nominal","scale":{"domain":["RA","HV"],"range":["circle","circle"]}}}}
]},
{"width":93,"height":85,"title":{"text":"24 mg Upadacitinib","color":"#2f3f6e"},"layer":[
{"data":{"name":"pred"},"transform":[{"filter":"datum.p=='B4'"}],"mark":{"type":"area"},"encoding":{"x":{"field":"t","type":"quantitative","scale":{"domain":[-0.7,12.5],"nice":false,"zero":false},"axis":{"values":[0,6,12],"tickCount":3,"title":null}},"y":{"field":"lo","type":"quantitative","scale":{"domain":[-30,79],"nice":false,"zero":false},"axis":{"values":[-25,0,25,50,75],"tickCount":5,"title":["IL-7 Induced","pSTAT5 (AU)"]}},"y2":{"field":"hi"},"fill":{"datum":"PI","type":"nominal","scale":{"domain":["PI"],"range":["#c9d4e8"]}}}},
{"data":{"name":"pred"},"transform":[{"filter":"datum.p=='B4'"}],"mark":{"type":"line","strokeWidth":1.8},"encoding":{"x":{"field":"t","type":"quantitative"},"y":{"field":"m","type":"quantitative"},"stroke":{"datum":"MP","type":"nominal","scale":{"domain":["MP"],"range":["#1f78b4"]}}}},
{"data":{"name":"obs"},"transform":[{"filter":"datum.p=='B4'"}],"mark":{"type":"point","filled":false,"size":18,"strokeWidth":1,"opacity":1},"encoding":{"x":{"field":"t","type":"quantitative"},"y":{"field":"v","type":"quantitative"},"color":{"field":"s","type":"nominal","scale":{"domain":["HV","RA"],"range":["#1f3864","#9bc53d"]}},"shape":{"field":"s","type":"nominal","scale":{"domain":["RA","HV"],"range":["circle","circle"]}}}}
]},
{"width":93,"height":77,"title":{"text":"6 mg Upadacitinib","color":"#2f3f6e"},"layer":[
{"data":{"name":"pred"},"transform":[{"filter":"datum.p=='B5'"}],"mark":{"type":"area"},"encoding":{"x":{"field":"t","type":"quantitative","scale":{"domain":[-0.7,12.5],"nice":false,"zero":false},"axis":{"values":[0,6,12],"tickCount":3,"title":"Time (h)"}},"y":{"field":"lo","type":"quantitative","scale":{"domain":[-30,79],"nice":false,"zero":false},"axis":{"values":[-25,0,25,50,75],"tickCount":5,"title":null}},"y2":{"field":"hi"},"fill":{"datum":"PI","type":"nominal","scale":{"domain":["PI"],"range":["#c9d4e8"]}}}},
{"data":{"name":"pred"},"transform":[{"filter":"datum.p=='B5'"}],"mark":{"type":"line","strokeWidth":1.8},"encoding":{"x":{"field":"t","type":"quantitative"},"y":{"field":"m","type":"quantitative"},"stroke":{"datum":"MP","type":"nominal","scale":{"domain":["MP"],"range":["#1f78b4"]}}}},
{"data":{"name":"obs"},"transform":[{"filter":"datum.p=='B5'"}],"mark":{"type":"point","filled":false,"size":18,"strokeWidth":1,"opacity":1},"encoding":{"x":{"field":"t","type":"quantitative"},"y":{"field":"v","type":"quantitative"},"color":{"field":"s","type":"nominal","scale":{"domain":["HV","RA"],"range":["#1f3864","#9bc53d"]}},"shape":{"field":"s","type":"nominal","scale":{"domain":["RA","HV"],"range":["circle","circle"]}}}}
]},
{"width":93,"height":77,"title":{"text":"5 mg Tofacitinib","color":"#ee9a4d"},"layer":[
{"data":{"name":"pred"},"transform":[{"filter":"datum.p=='B6'"}],"mark":{"type":"area"},"encoding":{"x":{"field":"t","type":"quantitative","scale":{"domain":[-0.7,12.5],"nice":false,"zero":false},"axis":{"values":[0,6,12],"tickCount":3,"title":"Time (h)"}},"y":{"field":"lo","type":"quantitative","scale":{"domain":[-30,79],"nice":false,"zero":false},"axis":{"values":[-25,0,25,50,75],"tickCount":5,"title":null}},"y2":{"field":"hi"},"fill":{"datum":"PI","type":"nominal","scale":{"domain":["PI"],"range":["#c9d4e8"]}}}},
{"data":{"name":"pred"},"transform":[{"filter":"datum.p=='B6'"}],"mark":{"type":"line","strokeWidth":1.8},"encoding":{"x":{"field":"t","type":"quantitative"},"y":{"field":"m","type":"quantitative"},"stroke":{"datum":"MP","type":"nominal","scale":{"domain":["MP"],"range":["#1f78b4"]}}}},
{"data":{"name":"obs"},"transform":[{"filter":"datum.p=='B6'"}],"mark":{"type":"point","filled":false,"size":18,"strokeWidth":1,"opacity":1},"encoding":{"x":{"field":"t","type":"quantitative"},"y":{"field":"v","type":"quantitative"},"color":{"field":"s","type":"nominal","scale":{"domain":["HV","RA"],"range":["#1f3864","#9bc53d"]}},"shape":{"field":"s","type":"nominal","scale":{"domain":["RA","HV"],"range":["circle","circle"]}}}}
]}
],"columns":2,"spacing":{"row":6,"column":16},"align":"each"}
],
"spacing":-16,
"resolve":{"scale":{"color":"independent","shape":"independent","stroke":"independent","fill":"independent"},"legend":{"color":"independent","shape":"independent","stroke":"independent","fill":"independent"}},
"config":{
"view":{"stroke":null},
"font":"Lato",
"axis":{"domainColor":"#808080","tickColor":"#808080","tickSize":3,"labelColor":"#404040","labelFontSize":9,"labelPadding":2,"labelOverlap":false,"titleFontSize":9.5,"titleFontWeight":"normal","titleColor":"#404040","grid":false},
"axisX":{"grid":true,"gridColor":"#ececec","labelAngle":0,"titlePadding":2},
"axisY":{"titlePadding":7,"titleLineHeight":10},
"title":{"anchor":"start","frame":"group","dx":-48,"fontSize":9.5,"fontWeight":"normal","offset":8},
"legend":{"labelFontSize":9,"labelColor":"#333333","rowPadding":2,"titleFontSize":19,"titleFontWeight":"bold","titleColor":"#222222","titleAnchor":"middle","titleBaseline":"middle","padding":0}
}
}
